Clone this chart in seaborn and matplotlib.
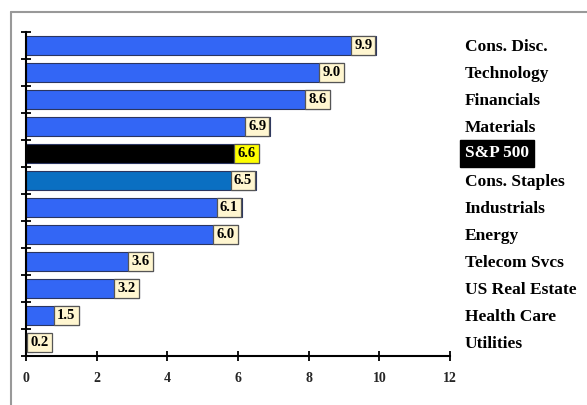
#!/usr/bin/env python3
"""
Sector bar chart with value boxes and right-hand labels
"""

import matplotlib
matplotlib.use('Agg')
import matplotlib.pyplot as plt
import matplotlib.lines as mlines
import matplotlib.transforms as mtransforms
import seaborn as sns

# --- data ---
sectors = ['Cons. Disc.', 'Technology', 'Financials', 'Materials', 'S&P 500',
           'Cons. Staples', 'Industrials', 'Energy', 'Telecom Svcs',
           'US Real Estate', 'Health Care', 'Utilities']
values = [9.9, 9.0, 8.6, 6.9, 6.6, 6.5, 6.1, 6.0, 3.6, 3.2, 1.5, 0.2]
x_ticks = [0, 2, 4, 6, 8, 10, 12]

BLUE = '#3366F5'
colors = [BLUE] * len(sectors)
colors[sectors.index('S&P 500')] = '#000000'
colors[sectors.index('Cons. Staples')] = '#0A6FC2'

SERIF = ['Liberation Serif', 'DejaVu Serif']


def draw():
    sns.set_style('white')
    plt.rcParams['font.family'] = SERIF
    fig = plt.figure(figsize=(5.87, 4.05), dpi=100)
    ax = fig.add_axes([26 / 587, 1 - 356 / 405, 424 / 587, 324 / 405])

    sns.barplot(x=values, y=sectors, hue=sectors, palette=colors, legend=False,
                orient='h', width=0.68, edgecolor='#2a3560', linewidth=0.8,
                saturation=1, ax=ax)

    ax.set_xlim(0, 12)
    ax.set_ylim(len(sectors) - 0.5, -0.5)
    ax.set_xticks(x_ticks)
    ax.set_xticklabels([str(t) for t in x_ticks], fontsize=10, fontweight='bold')
    ax.set_yticks([i - 0.5 for i in range(len(sectors) + 1)])
    ax.set_yticklabels([])
    ax.tick_params(axis='both', direction='inout', length=7, width=1.3,
                   color='black', bottom=True, left=True)
    ax.tick_params(axis='x', pad=8)
    for s in ['top', 'right']:
        ax.spines[s].set_visible(False)
    for s in ['left', 'bottom']:
        ax.spines[s].set_color('black')
        ax.spines[s].set_linewidth(1.5)
    ax.set_xlabel('')
    ax.set_ylabel('')

    # value boxes
    for i, (name, v) in enumerate(zip(sectors, values)):
        face = '#FFFF00' if name == 'S&P 500' else '#FFF6D0'
        ax.text(v - 0.1 if v > 0.5 else 0.12, i, f'{v:.1f}',
                ha='right' if v > 0.5 else 'left', va='center',
                fontsize=10.5, fontweight='bold', color='black',
                bbox=dict(boxstyle='square,pad=0.22', facecolor=face,
                          edgecolor='#555555', linewidth=0.9))

    # sector labels on the right
    trans = mtransforms.blended_transform_factory(ax.transAxes, ax.transData)
    for i, name in enumerate(sectors):
        if name == 'S&P 500':
            ax.text(1.035, i, name, transform=trans, ha='left', va='center',
                    fontsize=12.5, fontweight='bold', color='white',
                    bbox=dict(boxstyle='square,pad=0.3', facecolor='black',
                              edgecolor='black'))
        else:
            ax.text(1.035, i + 0.05, name, transform=trans, ha='left', va='center',
                    fontsize=12.5, fontweight='bold', color='black')

    # outer frame (top and left edges visible)
    fig.add_artist(mlines.Line2D([11 / 587, 1], [1 - 12 / 405, 1 - 12 / 405],
                                 color='#999999', linewidth=1.5))
    fig.add_artist(mlines.Line2D([11 / 587, 11 / 587], [0, 1 - 12 / 405],
                                 color='#999999', linewidth=1.5))

    fig.savefig('out.png', dpi=100)
    plt.close(fig)


if __name__ == '__main__':
    draw()
